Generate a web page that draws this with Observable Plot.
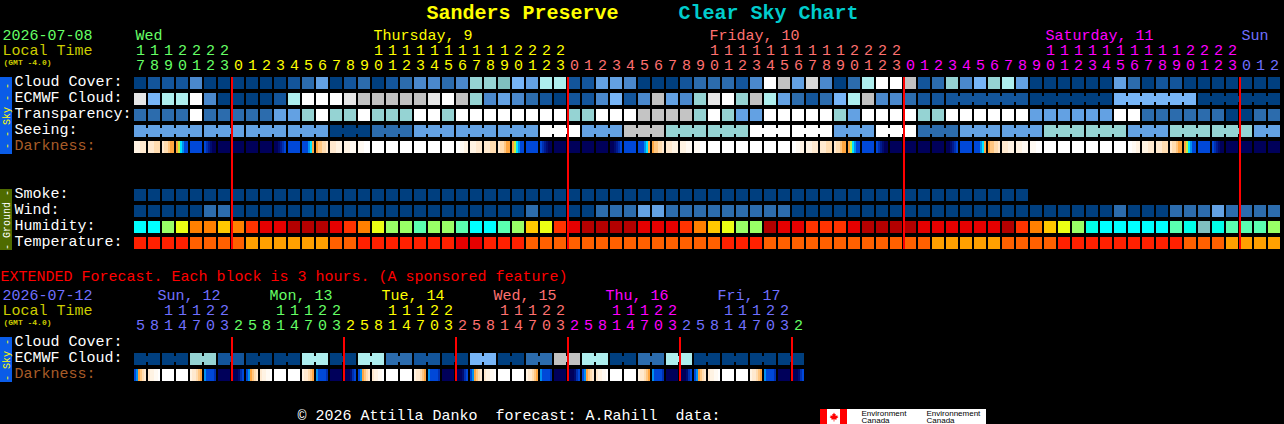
<!DOCTYPE html>
<html>
<head>
<meta charset="utf-8">
<script src="https://cdn.jsdelivr.net/npm/d3@7"></script>
<script src="https://cdn.jsdelivr.net/npm/@observablehq/plot@0.6"></script>
<style>
html,body{margin:0;padding:0;background:#000;overflow:hidden}
svg{display:block}
</style>
</head>
<body>
<div id="chart"></div>
<script>
// ---------- categories and tick labels ----------
const hours = [17,18,19,20,21,22,23,
  0,1,2,3,4,5,6,7,8,9,10,11,12,13,14,15,16,17,18,19,20,21,22,23,
  0,1,2,3,4,5,6,7,8,9,10,11,12,13,14,15,16,17,18,19,20,21,22,23,
  0,1,2,3,4,5,6,7,8,9,10,11,12,13,14,15,16,17,18,19,20,21,22,23,
  0,1,2];
const dayNames = ["Wed","Thursday, 9","Friday, 10","Saturday, 11","Sun"];
const dayFirstCol = [0,7,31,55,79];
const dayLabelCol = [0,17,41,65,79];
const extHours = [5,8,11,14,17,20,23, 2,5,8,11,14,17,20,23, 2,5,8,11,14,17,20,23,
  2,5,8,11,14,17,20,23, 2,5,8,11,14,17,20,23, 2,5,8,11,14,17,20,23, 2];
const extDayNames = ["Sun, 12","Mon, 13","Tue, 14","Wed, 15","Thu, 16","Fri, 17"];
const extDayFirstCol = [0,7,15,23,31,39,47];
const midnightCols = [7,31,55,79];
const extMidnightCols = [7,15,23,31,39,47];
const skyRows = ["Cloud Cover:","ECMWF Cloud:","Transparency:","Seeing:"];
const groundRows = ["Smoke:","Wind:","Humidity:","Temperature:"];

// ---------- series values (levels of each palette) ----------
const cloudCover = [0,1,1,1,3,0,0,0,0,0,0,1,2,4,0,1,2,0,1,2,3,
  3,2,3,6,6,13,5,4,7,7,1,1,4,4,3,0,0,0,1,2,2,2,1,3,11,8,4,9,3,0,2,
  7,11,11,8,1,2,6,3,5,6,7,4,0,0,0,0,0,0,4,2,0,1,1,0,0,0,0,0,0,0];
const ecmwfCloud = [10,5,7,7,11,3,0,0,0,0,1,7,11,11,11,10,8,8,8,8,8,
  10,11,8,6,3,4,3,2,1,0,1,1,3,5,1,3,8,4,3,6,10,11,6,8,7,4,2,1,2,5,7,
  8,3,3,2,1,1,1,1,1,1,1,1,0,0,0,0,0,0,5,5,5,5,5,5,0,0,0,0,0,0];
const ecmwfLinkedFrom = 58;
const ecmwfLinkEvery = 6;
const transparency = [2,2,2,2,11,2,2,2,2,2,4,4,6,11,6,6,11,6,6,6,11,
  11,6,11,11,11,11,11,11,11,11,6,6,11,11,11,12,12,12,12,6,11,6,4,4,11,11,11,11,11,6,4,
  11,11,11,11,6,6,11,11,11,11,11,11,4,4,4,4,4,4,11,11,2,2,2,2,2,2,0,0,2,2];
const seeingBlocks = [4,4,4,4,0,2,4,4,4,11,4,12,6,6,11,11,4,11,2,4,4,6,6,4,6,6,4];
const seeingBlockSize = [5,3,3,3,3,3,3,3,3,3,3,3,3,3,3,3,3,3,3,3,3,3,3,3,3,3,2];
const darkness = ["222333","333444","344566","6789aa","a","abcdee","e","e","e","e","eedcba","a","aaa986","655443","333222","222111","111000",
  "0","0","0","0","0","0","001122","222333","333444","344566","6789aa","a","abcdee","e","e","e","e","eedcba","a","aaa986","655443","333222","222111","111000",
  "0","0","0","0","0","0","001122","222333","333444","344566","6789aa","a","abcdee","e","e","e","e","eedcba","a","aaa986","655443","333222","222111","111000",
  "0","0","0","0","0","0","001122","222333","333444","344566","6789aa","a","abcdee","e","e","e","e"];
const smoke = [0,0,0,0,0,0,0,0,0,0,0,0,0,0,0,0,0,0,0,0,0,0,0,0,0,0,0,0,0,0,0,0,
  0,0,0,0,0,0,0,0,0,0,0,0,0,0,0,0,0,0,0,0,0,0,0,0,0,0,0,0,0,0,0,0];
const wind = [0,0,0,0,0,2,2,0,0,0,0,0,0,0,0,0,0,0,0,0,0,0,0,0,0,0,0,0,2,0,0,0,0,2,2,2,4,4,2,2,2,2,2,2,2,2,2,
  0,0,0,0,0,0,0,0,0,0,0,0,0,0,0,0,0,0,0,0,0,0,0,2,0,0,0,2,2,2,4,2,2,2,2];
const humidity = [0,0,3,4,6,6,5,6,7,8,8,9,9,9,8,7,6,4,3,3,2,
  3,3,2,0,0,2,3,5,4,7,8,9,9,9,9,8,8,8,7,6,5,4,3,3,9,8,8,7,7,7,8,
  9,9,9,9,8,8,8,8,8,8,9,7,6,5,4,3,1,0,0,0,0,0,2,1,10,1,2,2,2,3];
const temperature = [1,1,1,1,2,2,2,2,3,3,3,3,3,3,2,2,1,1,1,1,1,
  1,1,0,0,1,1,1,2,2,2,2,2,2,2,2,2,2,2,2,2,2,1,1,1,2,2,2,2,2,2,2,
  2,2,2,2,2,3,3,3,3,3,2,2,2,2,1,1,1,1,1,1,1,1,1,2,2,2,3,3,3,3];
const extCloud = [0,0,0,0,6,6,1,1,0,0,0,0,7,7,0,0,7,7,2,2,1,1,0,0,5,5,0,0,2,2,8,8,7,7,0,0,2,2,7,7,0,0,0,0,0,0,0,0];
const extDarkness = ["a96543","322110","0","0","233456","9aaaab","e","eeedba",
  "a96543","322110","0","0","233456","9aaaab","e","eeedba",
  "a96543","322110","0","0","233456","9aaaab","e","eeedba",
  "a96543","322110","0","0","233456","9aaaab","e","eeedba",
  "a96543","322110","0","0","233456","9aaaab","e","eeedba",
  "a96543","322110","0","0","233456","9aaaab","e","eeedba"];

// ---------- palettes ----------
const skyPalette = ["#003f7f","#13559b","#2c6cad","#4a88cc","#63a1e3","#77b5f7","#95d3d3","#aeeeee","#c1c1c1","#d8d8d8","#e6e6e6","#ffffff","#c4c4c4","#80bfbf"];
const darkPalette = {"0":"#ffffff","1":"#fffaf3","2":"#fff3e3","3":"#ffe9cf","4":"#ffdcb0","5":"#ffc680","6":"#ffa640",
  "7":"#c0f040","8":"#00e5ff","9":"#0090f0","a":"#0048d8","b":"#0030b0","c":"#001a90","d":"#000c70","e":"#00005a"};
const humidityPalette = ["#00ffff","#00ffe8","#5affb0","#99ff66","#ebff14","#ffc800","#ff8000","#ff3300","#e60000","#b30000","#80bfbf"];
const temperaturePalette = ["#e60000","#ff2000","#ff6000","#ffa000"];
const dayColors = ["#66ff66","#ffff00","#ff7070","#ff00ff","#7070ff"];
const extDayColors = ["#7070ff","#66ff66","#ffff00","#ff7070","#ff00ff","#7070ff","#66ff66"];
const RED = "#ff0000", SKYBAR = "#0a5ce8", GROUNDBAR = "#4f6b00";

// ---------- layout: x in chart columns, y in chart rows ----------
const W = 1284, H = 424, LEFT = 134, TOP = 77, COL = 14, ROW = 16, CELL = 12;
const cx = p => (p - LEFT) / COL;   // page pixel -> column units
const ry = p => (p - TOP) / ROW;    // page pixel -> row units
const cellW = CELL / COL, cellH = CELL / ROW;
const EXT_ROW = ry(337);            // "Cloud Cover" row of the extended forecast
const MONO = "'Liberation Mono', monospace";

const cells = [], links = [];
function addRow(values, row, prefix) {
  values.forEach((v, c) => cells.push({c, n: 0, m: 1, row, k: prefix + v}));
}
function addStrips(values, row) {
  values.forEach((s, c) => [...s].forEach((ch, n) => cells.push({c, n, m: s.length, row, k: "D" + ch})));
}
function addLink(c, row, k) { links.push({c, row, k}); }

addRow(cloudCover, 0, "S");
addRow(ecmwfCloud, 1, "S");
addRow(transparency, 2, "S");
addStrips(darkness, 4);
addRow(smoke, 7, "S");
addRow(wind, 8, "S");
addRow(humidity, 9, "H");
addRow(temperature, 10, "T");
addRow(extCloud, EXT_ROW + 1, "S");
addStrips(extDarkness, EXT_ROW + 2);

ecmwfCloud.forEach((v, c) => {
  if (c >= ecmwfLinkedFrom && (c - ecmwfLinkedFrom + 1) % ecmwfLinkEvery !== 0 && c < ecmwfCloud.length - 1)
    addLink(c, 1, "S" + v);
});
let col0 = 0;
seeingBlocks.forEach((v, i) => {
  for (let j = 0; j < seeingBlockSize[i]; j++) {
    cells.push({c: col0 + j, n: 0, m: 1, row: 3, k: "S" + v});
    if (j < seeingBlockSize[i] - 1) addLink(col0 + j, 3, "S" + v);
  }
  col0 += seeingBlockSize[i];
});
extCloud.forEach((v, c) => { if (c % 2 === 0) addLink(c, EXT_ROW + 1, "S" + v); });

// colour scale shared by all the blocks
const colorDomain = [], colorRange = [];
skyPalette.forEach((v, i) => { colorDomain.push("S" + i); colorRange.push(v); });
Object.entries(darkPalette).forEach(([k, v]) => { colorDomain.push("D" + k); colorRange.push(v); });
humidityPalette.forEach((v, i) => { colorDomain.push("H" + i); colorRange.push(v); });
temperaturePalette.forEach((v, i) => { colorDomain.push("T" + i); colorRange.push(v); });

// header digit labels
const tickRows = [];
function addTicks(list, firsts, colors, yTens, yOnes) {
  list.forEach((h, c) => {
    let d = d3.bisectRight(firsts, c) - 1;
    if (h >= 10) tickRows.push({c, y: yTens, t: String(Math.floor(h / 10)), fill: colors[d]});
    tickRows.push({c, y: yOnes, t: String(h % 10), fill: colors[d]});
  });
}
addTicks(hours, dayFirstCol, dayColors, ry(50), ry(65));
addTicks(extHours, extDayFirstCol, extDayColors, ry(310), ry(325));

const monoTexts = [
  {x: 2, y: 34.5, t: "2026-07-08", f: dayColors[0]},
  {x: 2, y: 49.5, t: "Local Time", f: "#cccc00"},
  {x: 2, y: 294.5, t: "2026-07-12", f: extDayColors[0]},
  {x: 2, y: 309.5, t: "Local Time", f: "#cccc00"},
  {x: 0, y: 275.5, t: "EXTENDED Forecast. Each block is 3 hours. (A sponsored feature)", f: RED},
  {x: 297, y: 415, t: "© 2026 Attilla Danko\u00a0\u00a0forecast: A.Rahill\u00a0\u00a0data:", f: "#ffffff"},
  ...dayNames.map((t, i) => ({x: LEFT + COL * dayLabelCol[i] + 1, y: 34.5, t, f: dayColors[i]})),
  ...extDayNames.map((t, i) => ({x: 157 + i * 8 * COL, y: 294.5, t, f: extDayColors[i]})),
  ...skyRows.map((t, i) => ({x: 14, y: 80.5 + i * ROW, t, f: "#ffffff"})),
  {x: 14, y: 144.5, t: "Darkness:", f: "#a85c28"},
  ...groundRows.map((t, i) => ({x: 14, y: 192.5 + i * ROW, t, f: "#ffffff"})),
  {x: 14, y: 340.5, t: "Cloud Cover:", f: "#ffffff"},
  {x: 14, y: 356.5, t: "ECMWF Cloud:", f: "#ffffff"},
  {x: 14, y: 372.5, t: "Darkness:", f: "#a85c28"}
];
const titles = [
  {x: 426, t: "Sanders Preserve", f: "#ffff00"},
  {x: 678, t: "Clear Sky Chart", f: "#00cccc"}
];
const gmt = [{y: 62}, {y: 322}];
const bars = [
  {y1: 77, y2: 154, f: SKYBAR}, {y1: 189, y2: 250, f: GROUNDBAR}, {y1: 337, y2: 382, f: SKYBAR}
];
const barTexts = [
  {y: 115.5, t: "- - Sky - -", f: "#ffff00"},
  {y: 219.5, t: "- Ground -", f: "#ffffff"},
  {y: 359.5, t: "- Sky -", f: "#ffff00"}
];
const logoBands = [
  {x1: 820, x2: 986, f: "#ffffff"}, {x1: 820, x2: 827, f: "#ff0000"}, {x1: 840, x2: 847, f: "#ff0000"}
];
const logoTexts = [
  {x: 861, y: 412.5, t: "Environment"}, {x: 861, y: 419.5, t: "Canada"},
  {x: 926, y: 412.5, t: "Environnement"}, {x: 926, y: 419.5, t: "Canada"}
];
const leaf = {draw(ctx, size) {
  const s = Math.sqrt(size) / 10;
  const pts = [[0,-5],[1,-3],[2,-3.5],[1.8,-1],[4,-2],[3.5,-.8],[5,0],[2.5,2],[3,3],[.4,2.6],[.4,5],[-.4,5],[-.4,2.6],[-3,3],[-2.5,2],[-5,0],[-3.5,-.8],[-4,-2],[-1.8,-1],[-2,-3.5],[-1,-3]];
  pts.forEach(([x, y], i) => i ? ctx.lineTo(x * s, y * s) : ctx.moveTo(x * s, y * s));
  ctx.closePath();
}};

const crisp = {shapeRendering: "crispEdges"};
const chart = Plot.plot({
  width: W, height: H,
  marginTop: 0, marginRight: 0, marginBottom: 0, marginLeft: 0,
  style: {background: "#000000", display: "block"},
  x: {domain: [cx(0), cx(W)], range: [0, W], axis: null},
  y: {domain: [ry(0), ry(H)], range: [0, H], axis: null},
  color: {type: "ordinal", domain: colorDomain, range: colorRange, legend: false},
  marks: [
    // side bars
    Plot.rect(bars, {x1: () => cx(0), x2: () => cx(12), y1: d => ry(d.y1), y2: d => ry(d.y2), fill: d => d.f, ...crisp}),
    Plot.text(barTexts, {x: () => cx(6), y: d => ry(d.y), text: d => d.t, fill: d => d.f, rotate: -90,
      fontFamily: MONO, fontSize: 10, textAnchor: "middle", lineAnchor: "middle"}),
    // blocks
    Plot.rect(cells, {
      x1: d => d.c + cellW * d.n / d.m, x2: d => d.c + cellW * (d.n + 1) / d.m,
      y1: d => d.row, y2: d => d.row + cellH, fill: d => d.k, ...crisp}),
    Plot.rect(links, {
      x1: d => d.c + cellW, x2: d => d.c + 1,
      y1: d => d.row + 3 / ROW, y2: d => d.row + 9 / ROW, fill: d => d.k, ...crisp}),
    // midnight lines
    Plot.rect(midnightCols, {x1: d => d - 1 / COL, x2: d => d + 1 / COL, y1: () => ry(77), y2: () => ry(249), fill: RED, ...crisp}),
    Plot.rect(extMidnightCols, {x1: d => d - 1 / COL, x2: d => d + 1 / COL, y1: () => ry(337), y2: () => ry(381), fill: RED, ...crisp}),
    // text
    Plot.text(titles, {x: d => cx(d.x), y: () => ry(12), text: d => d.t, fill: d => d.f,
      fontFamily: MONO, fontWeight: "bold", fontSize: 20, textAnchor: "start", lineAnchor: "middle"}),
    Plot.text(monoTexts, {x: d => cx(d.x), y: d => ry(d.y), text: d => d.t, fill: d => d.f,
      fontFamily: MONO, fontSize: 15, textAnchor: "start", lineAnchor: "middle"}),
    Plot.text(tickRows, {x: d => d.c + cellW / 2, y: d => d.y, text: d => d.t, fill: d => d.fill,
      fontFamily: MONO, fontSize: 15, textAnchor: "middle", lineAnchor: "middle"}),
    Plot.text(gmt, {x: () => cx(3), y: d => ry(d.y), text: () => "(GMT -4.0)", fill: "#cccc00",
      fontFamily: MONO, fontWeight: "bold", fontSize: 8, textAnchor: "start", lineAnchor: "middle"}),
    // logo
    Plot.rect(logoBands, {x1: d => cx(d.x1), x2: d => cx(d.x2), y1: () => ry(409), y2: () => ry(424), fill: d => d.f, ...crisp}),
    Plot.dot([0], {x: () => cx(833.5), y: () => ry(416.5), r: 5, symbol: leaf, fill: "#ff0000", stroke: "none"}),
    Plot.text(logoTexts, {x: d => cx(d.x), y: d => ry(d.y), text: d => d.t, fill: "#000000",
      fontFamily: "'Liberation Sans', sans-serif", fontSize: 8, textAnchor: "start", lineAnchor: "middle"})
  ]
});
document.getElementById("chart").appendChild(chart);
</script>
</body>
</html>
